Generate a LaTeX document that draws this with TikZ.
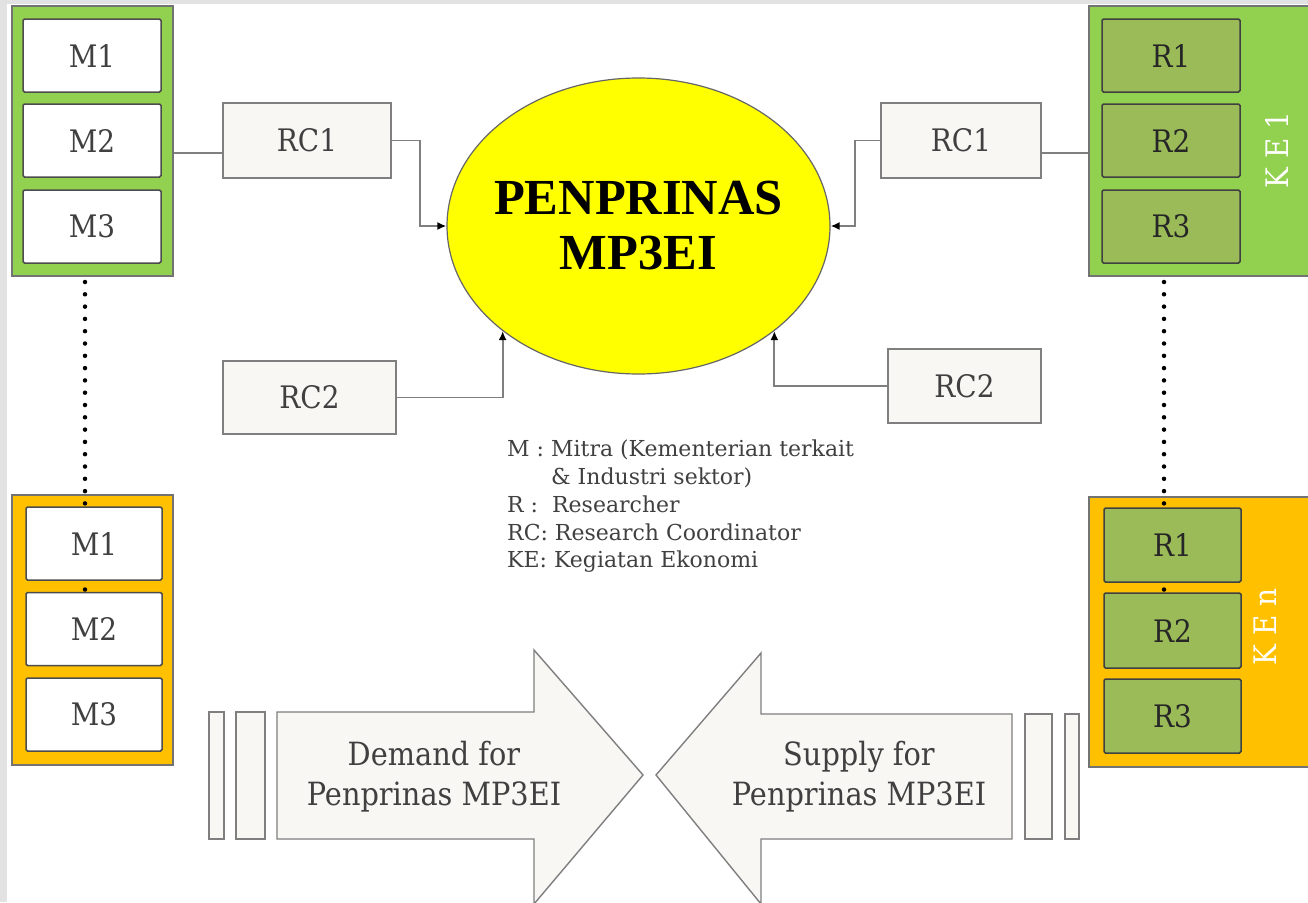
\documentclass[tikz,border=0pt]{standalone}
\usepackage{fontspec}
\setmainfont{DejaVu Serif}
\newfontfamily\slab[FakeStretch=0.9]{DejaVu Serif}
\newfontfamily\timesbold{Liberation Serif}
\usetikzlibrary{arrows.meta,shapes.geometric}
\definecolor{kegreen}{HTML}{92D050}
\definecolor{keorange}{HTML}{FFC000}
\definecolor{rolive}{HTML}{9BBB59}
\definecolor{boxgray}{HTML}{F8F7F4}
\definecolor{linegray}{HTML}{7F7F7F}
\definecolor{txt}{HTML}{404040}
\definecolor{edgegray}{HTML}{E2E2E2}
\definecolor{penyellow}{HTML}{FFFF00}
\tikzset{
  outerbox/.style={draw=black!55, line width=1.5pt, inner sep=0pt},
  mbox/.style={draw=black!70, line width=1.5pt, fill=white, rounded corners=1.5pt, minimum width=138pt, minimum height=73pt, inner sep=0pt, text=txt, font=\slab\fontsize{31}{33}\selectfont},
  rbox/.style={draw=black!75, line width=1.5pt, fill=rolive, rounded corners=1.5pt, minimum width=138pt, minimum height=73pt, inner sep=0pt, text=black!85, font=\slab\fontsize{31}{33}\selectfont},
  rcbox/.style={draw=linegray, line width=1.5pt, fill=boxgray, minimum height=74pt, inner sep=0pt, text=txt, font=\slab\fontsize{31}{33}\selectfont},
  kelabel/.style={rotate=90, text=white, font=\slab\fontsize{31}{33}\selectfont},
  conn/.style={draw=linegray, line width=1.8pt, -{Latex[length=9pt,width=8pt,color=black]}},
  link/.style={draw=linegray, line width=1.8pt},
  dotline/.style={line width=4.5pt, line cap=round, dash pattern=on 0pt off 12.3pt, black},
  bigarrow/.style={draw=linegray, line width=1.4pt, fill=boxgray},
  arrowtext/.style={align=center, text=txt, font=\slab\fontsize{32}{40}\selectfont}
}
\begin{document}
\begin{tikzpicture}[x=1pt,y=-1pt]
\useasboundingbox (0,0) rectangle (1308,902);
\fill[white] (0,0) rectangle (1308,902);
\fill[edgegray] (0,0) rectangle (7,902);
\fill[edgegray] (0,0) rectangle (1308,4);

% outer KE boxes
\node[outerbox, fill=kegreen, minimum width=161pt, minimum height=270pt] (gl) at (92.5,141) {};
\node[outerbox, fill=keorange, minimum width=161pt, minimum height=270pt] (ol) at (92.5,630) {};
\node[outerbox, fill=kegreen, minimum width=230pt, minimum height=270pt] (gr) at (1204,141) {};
\node[outerbox, fill=keorange, minimum width=230pt, minimum height=270pt] (or) at (1204,632) {};

% dotted links
\draw[dotline] (85,282) -- (85,592);
\draw[dotline] (1164,282) -- (1164,593);

% M boxes
\node[mbox] (m1l) at (92,55.5) {M1};
\node[mbox] (m2l) at (92,140.5) {M2};
\node[mbox] (m3l) at (92,226.5) {M3};
\node[mbox, minimum width=136pt] (m1o) at (94,543.5) {M1};
\node[mbox, minimum width=136pt] (m2o) at (94,629) {M2};
\node[mbox, minimum width=136pt] (m3o) at (94,714.5) {M3};

% R boxes
\node[rbox] (r1g) at (1171,55.5) {R1};
\node[rbox] (r2g) at (1171,140.5) {R2};
\node[rbox] (r3g) at (1171,226.5) {R3};
\node[rbox, minimum width=137pt, minimum height=74pt] (r1o) at (1172.5,545) {R1};
\node[rbox, minimum width=137pt, minimum height=75pt] (r2o) at (1172.5,630.5) {R2};
\node[rbox, minimum width=137pt, minimum height=74pt] (r3o) at (1172.5,716) {R3};

\node[kelabel] (ke1) at (1277,150) {K E 1};
\node[kelabel] (ken) at (1265,627) {K E n};

% central ellipse
\node[ellipse, draw=black!60, line width=1.2pt, fill=penyellow, minimum width=383pt, minimum height=296pt, inner sep=0pt] (pen) at (638.5,226) {};
\node[align=center, inner sep=0pt, font=\timesbold\bfseries\fontsize{50.5}{55}\selectfont] (pentext) at (pen.center) {PENPRINAS\\MP3EI};

% RC boxes
\node[rcbox, minimum width=168pt, minimum height=75pt] (rc1l) at (307,140.5) {RC1};
\node[rcbox, minimum width=173pt, minimum height=73pt] (rc2l) at (309.5,397.5) {RC2};
\node[rcbox, minimum width=160pt, minimum height=75pt] (rc1r) at (961,140.5) {RC1};
\node[rcbox, minimum width=153pt, minimum height=74pt] (rc2r) at (964.5,386) {RC2};

% connectors
\draw[link] ([yshift=-12.5pt]rc1l.west) -- ([yshift=-12.5pt]rc1l.west -| gl.east);
\draw[link] ([yshift=-12.5pt]rc1r.east) -- ([yshift=-12.5pt]rc1r.east -| gr.west);
\draw[conn] (rc1l.east) -- ++(28,0) |- (pen.west);
\draw[conn] (rc1r.west) -- ++(-25,0) |- (pen.east);
\draw[conn] (rc2l.east) -| (pen.south west);
\draw[conn] (rc2r.west) -| (pen.south east);

% legend
\node[anchor=north west, align=left, text=txt, font=\fontsize{22}{27.7}\selectfont, inner sep=0pt] (legend) at (507,440) {M : Mitra (Kementerian terkait\\\phantom{M : }\& Industri sektor)\\R :\ \ Researcher\\RC: Research Coordinator\\KE: Kegiatan Ekonomi};

% bottom arrows
\draw[bigarrow] (209,712) rectangle (224,839);
\draw[bigarrow] (236,712) rectangle (265,839);
\draw[bigarrow] (277,712) -- (534,712) -- (534,650) -- (643,775) -- (534,904) -- (534,839) -- (277,839) -- cycle;
\draw[bigarrow] (1025,714) rectangle (1052,839);
\draw[bigarrow] (1065,714) rectangle (1079,839);
\draw[bigarrow] (1012,714) -- (761,714) -- (761,653) -- (656,775) -- (761,904) -- (761,839) -- (1012,839) -- cycle;
\node[arrowtext] (demand) at (434,777) {Demand for\\Penprinas MP3EI};
\node[arrowtext] (supply) at (859,777) {Supply for\\Penprinas MP3EI};
\end{tikzpicture}
\end{document}
